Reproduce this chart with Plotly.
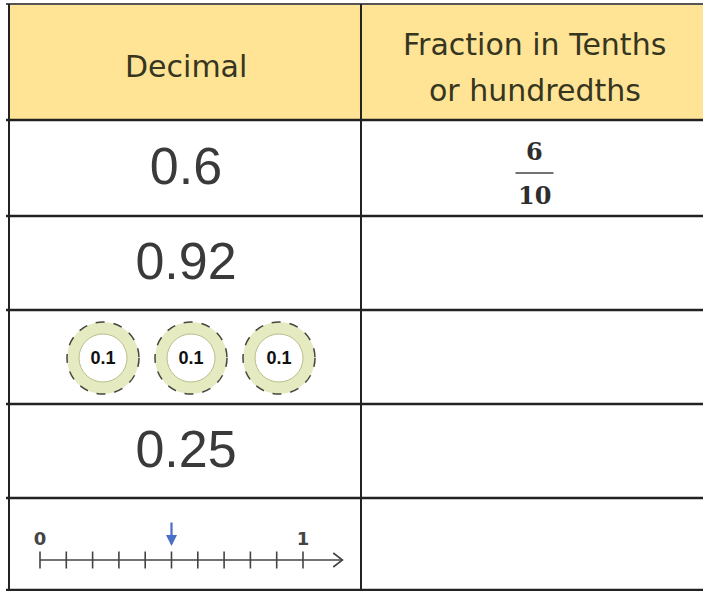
"""
Decimal / fraction worksheet table drawn with Plotly shapes, text and an inset number line.
"""

import plotly.graph_objects as go

W, H = 703, 591

# table content
HEADERS = ["Decimal", "Fraction in Tenths", "or hundredths"]
DECIMALS = ["0.6", "0.92", None, "0.25", None]
FRACTIONS = [("6", "10"), None, None, None, None]
COUNTERS = [0.1, 0.1, 0.1]
COUNTER_ROW = 2
NUMBER_LINE_ROW = 4
NL_TICKS = [0.0, 0.1, 0.2, 0.3, 0.4, 0.5, 0.6, 0.7, 0.8, 0.9, 1.0]
NL_LABELS = {0.0: "0", 1.0: "1"}
NL_MARK = 0.5

# layout (pixels)
X_LEFT, X_MID, X_RIGHT = 9, 361, 712
Y_TOP = 4
ROW_LINES = [120, 216, 310, 404, 498, 590]
COL1_CX = (X_LEFT + X_MID) / 2 + 1
COL2_CX = (X_MID + X_RIGHT) / 2

HEADER_FILL = "#FFE496"
HEADER_TEXT = "#36351f"
LINE = "#222222"
NUM_COLOR = "#3a3a3a"

fig = go.Figure()
shapes = []
annotations = []

# header band
shapes.append(dict(type="rect", xref="x", yref="y", x0=X_LEFT, x1=X_RIGHT, y0=Y_TOP, y1=ROW_LINES[0],
                   fillcolor=HEADER_FILL, line_width=0, layer="below"))

# grid lines
shapes.append(dict(type="line", x0=6, x1=X_RIGHT, y0=Y_TOP, y1=Y_TOP, line=dict(color="#555555", width=2)))
for y in ROW_LINES:
    shapes.append(dict(type="line", x0=6, x1=X_RIGHT, y0=y, y1=y, line=dict(color=LINE, width=2.5)))
for x in (X_LEFT, X_MID, X_RIGHT):
    shapes.append(dict(type="line", x0=x, x1=x, y0=Y_TOP, y1=H, line=dict(color=LINE, width=2)))

# headers
annotations.append(dict(x=COL1_CX, y=66, text=HEADERS[0], showarrow=False,
                        font=dict(family="DejaVu Sans", size=30, color=HEADER_TEXT)))
annotations.append(dict(x=COL2_CX - 2, y=44, text=HEADERS[1], showarrow=False,
                        font=dict(family="DejaVu Sans", size=30, color=HEADER_TEXT)))
annotations.append(dict(x=COL2_CX - 2, y=90, text=HEADERS[2], showarrow=False,
                        font=dict(family="DejaVu Sans", size=30, color=HEADER_TEXT)))

row_centers = [(a + b) / 2 for a, b in zip(ROW_LINES[:-1], ROW_LINES[1:])]

# decimal values
dec_rows = [i for i, d in enumerate(DECIMALS) if d is not None]
fig.add_trace(go.Scatter(
    x=[COL1_CX] * len(dec_rows),
    y=[row_centers[i] + 3 for i in dec_rows],
    text=[DECIMALS[i] for i in dec_rows],
    mode="text",
    textfont=dict(family="Liberation Sans", size=52, color=NUM_COLOR),
    hoverinfo="skip",
))

# fractions
for i, frac in enumerate(FRACTIONS):
    if frac is None:
        continue
    num, den = frac
    cy = row_centers[i] + 5
    annotations.append(dict(x=COL2_CX - 2, y=cy - 22, text=num, showarrow=False,
                            font=dict(family="DejaVu Serif", size=24, color="#2e2e2e", weight="bold")))
    annotations.append(dict(x=COL2_CX - 2, y=cy + 22, text=den, showarrow=False,
                            font=dict(family="DejaVu Serif", size=24, color="#2e2e2e", weight="bold")))
    shapes.append(dict(type="line", x0=COL2_CX - 21, x1=COL2_CX + 17, y0=cy, y1=cy,
                       line=dict(color="#444444", width=1.5)))

# place-value counters
cy = row_centers[COUNTER_ROW] + 1
n = len(COUNTERS)
cxs = [COL1_CX + 5 + (k - (n - 1) / 2) * 88 for k in range(n)]
for cx in cxs:
    shapes.append(dict(type="circle", x0=cx - 36, x1=cx + 36, y0=cy - 36, y1=cy + 36, layer="below",
                       fillcolor="#e5eac0", line=dict(color="#46463c", width=1.5, dash="dash")))
    shapes.append(dict(type="circle", x0=cx - 24, x1=cx + 24, y0=cy - 24, y1=cy + 24, layer="below",
                       fillcolor="#ffffff", line=dict(color="#b8bf8c", width=1)))
fig.add_trace(go.Scatter(
    x=cxs, y=[cy + 1] * n, text=[f"{c:g}" for c in COUNTERS], mode="text",
    textfont=dict(family="Liberation Sans", size=18, color="#111111", weight="bold"),
    hoverinfo="skip",
))

# number line on an inset axis (x2 / y2), y2 in pixel-like units with 0 on the line
NL_X0, NL_PX = 40, 263
RNG = (-0.1, 1.2)
dom_x = [(NL_X0 + RNG[0] * NL_PX) / W, (NL_X0 + RNG[1] * NL_PX) / W]
r_top, r_bot = ROW_LINES[NUMBER_LINE_ROW], ROW_LINES[NUMBER_LINE_ROW + 1]
line_y = 560
dom_y = [1 - r_bot / H, 1 - r_top / H]
y_rng = [-(r_bot - line_y), line_y - r_top]

fig.add_trace(go.Scatter(
    x=[NL_TICKS[0], 1.15], y=[0, 0], mode="lines",
    line=dict(color="#444444", width=1.6), xaxis="x2", yaxis="y2", hoverinfo="skip",
))
fig.add_trace(go.Scatter(
    x=[1.115, 1.15, 1.115], y=[7, 0, -7], mode="lines",
    line=dict(color="#444444", width=1.6), xaxis="x2", yaxis="y2", hoverinfo="skip",
))
fig.add_trace(go.Scatter(
    x=NL_TICKS, y=[0] * len(NL_TICKS), mode="markers",
    marker=dict(symbol="line-ns", size=12, line=dict(color="#444444", width=1.6)),
    xaxis="x2", yaxis="y2", hoverinfo="skip",
))
fig.add_trace(go.Scatter(
    x=list(NL_LABELS.keys()), y=[20] * len(NL_LABELS), text=list(NL_LABELS.values()),
    mode="text", textfont=dict(family="DejaVu Sans", size=18, color="#444444", weight="bold"),
    xaxis="x2", yaxis="y2", hoverinfo="skip",
))
annotations.append(dict(x=NL_MARK, y=14, ax=NL_MARK, ay=39, xref="x2", yref="y2",
                        axref="x2", ayref="y2", text="", showarrow=True,
                        arrowhead=2, arrowsize=1, arrowwidth=2.2, arrowcolor="#4a6fc7"))

fig.update_layout(
    width=W, height=H,
    margin=dict(l=0, r=0, t=0, b=0),
    paper_bgcolor="white", plot_bgcolor="white",
    showlegend=False,
    shapes=shapes,
    annotations=annotations,
    xaxis=dict(range=[0, W], domain=[0, 1], visible=False, fixedrange=True),
    yaxis=dict(range=[H, 0], domain=[0, 1], visible=False, fixedrange=True),
    xaxis2=dict(range=list(RNG), domain=dom_x, anchor="y2", visible=False, fixedrange=True),
    yaxis2=dict(range=y_rng, domain=dom_y, anchor="x2", visible=False, fixedrange=True),
)

# drop the default page margin so the figure sits at the window origin
fig.write_html("out.html", config={"displayModeBar": False},
               post_script="document.body.style.margin='0';")
